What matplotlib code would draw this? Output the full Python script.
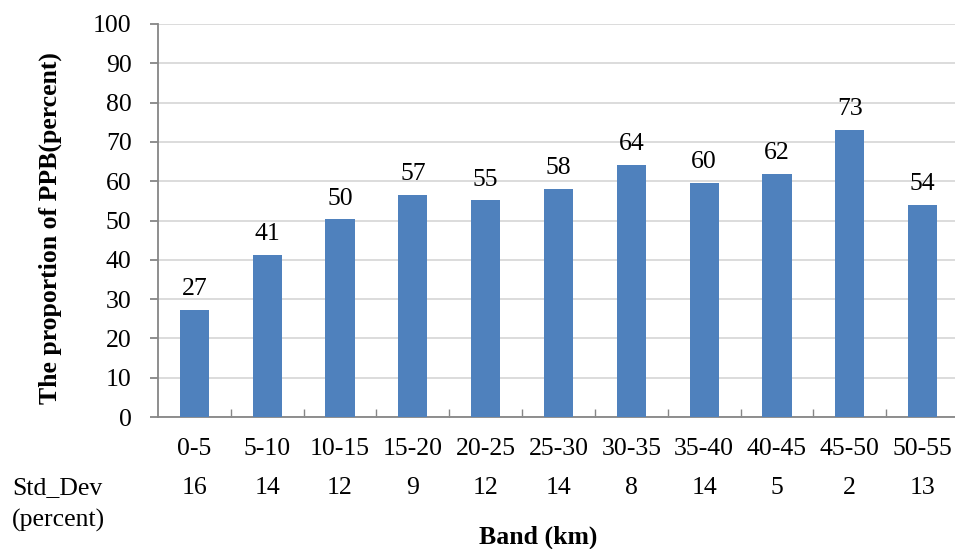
import matplotlib
matplotlib.use("Agg")
import matplotlib.pyplot as plt
import matplotlib.transforms as mtransforms
import numpy as np

# =========================
# DATOS
# =========================
bands = ["0-5", "5-10", "10-15", "15-20", "20-25", "25-30",
         "30-35", "35-40", "40-45", "45-50", "50-55"]
ppb = [27.2, 41.2, 50.3, 56.5, 55.1, 58.0, 64.1, 59.6, 61.9, 73.0, 53.9]
ppb_labels = ["27", "41", "50", "57", "55", "58", "64", "60", "62", "73", "54"]
std_dev = ["16", "14", "12", "9", "12", "14", "8", "14", "5", "2", "13"]

BAR_COLOR = "#4f81bd"
GRID_COLOR = "#d9d9d9"
AXIS_COLOR = "#868686"
FS = 18.5

plt.rcParams["font.family"] = ["Liberation Serif", "DejaVu Serif"]


def main() -> None:
    W, H = 955, 549
    fig = plt.figure(figsize=(W / 100, H / 100), dpi=100)
    ax = fig.add_axes([158 / W, (H - 417) / H, (959 - 158) / W, 393 / H])

    x = np.arange(len(bands))
    bars = ax.bar(x, ppb, width=0.4, color=BAR_COLOR, zorder=3)

    for rect, lab in zip(bars, ppb_labels):
        ax.annotate(lab, (rect.get_x() + rect.get_width() / 2, rect.get_height()),
                    xytext=(0, 7), textcoords="offset points",
                    ha="center", va="bottom", fontsize=FS)

    ax.set_xlim(-0.5, len(bands) - 0.5)
    ax.set_ylim(0, 100)
    ax.set_yticks(np.arange(0, 101, 10))
    ax.yaxis.grid(True, color=GRID_COLOR, linewidth=1.3, zorder=0)
    ax.set_axisbelow(True)

    ax.set_xticks(x)
    ax.set_xticklabels(bands, fontsize=FS)
    ax.set_xticks(np.arange(0.5, len(bands) - 0.5, 1), minor=True)
    ax.tick_params(axis="x", which="major", length=0, pad=15)
    ax.tick_params(axis="x", which="minor", direction="in", length=6,
                   color=AXIS_COLOR, width=1)
    ax.tick_params(axis="y", which="major", direction="out", length=6,
                   color=AXIS_COLOR, width=1.3, labelsize=FS, pad=13)

    for side in ("top", "right"):
        ax.spines[side].set_visible(False)
    for side in ("left", "bottom"):
        ax.spines[side].set_color(AXIS_COLOR)
        ax.spines[side].set_linewidth(1.3)

    trans = mtransforms.blended_transform_factory(ax.transData, fig.transFigure)
    for xi, sd in zip(x, std_dev):
        ax.text(xi, 1 - 488 / H, sd, transform=trans, ha="center", va="center",
                fontsize=FS, clip_on=False)

    fig.text(12 / W, 1 - 488 / H, "Std_Dev", ha="left", va="center", fontsize=FS)
    fig.text(12 / W, 1 - 520 / H, "(percent)", ha="left", va="center", fontsize=FS)
    fig.text(538 / W, 1 - 537 / H, "Band (km)", ha="center", va="center",
             fontsize=FS, fontweight="bold")
    fig.text(50 / W, 1 - 228 / H, "The proportion of PPB(percent)", ha="center",
             va="center", rotation=90, fontsize=FS, fontweight="bold")

    fig.savefig("out.png", dpi=100)


if __name__ == "__main__":
    main()
